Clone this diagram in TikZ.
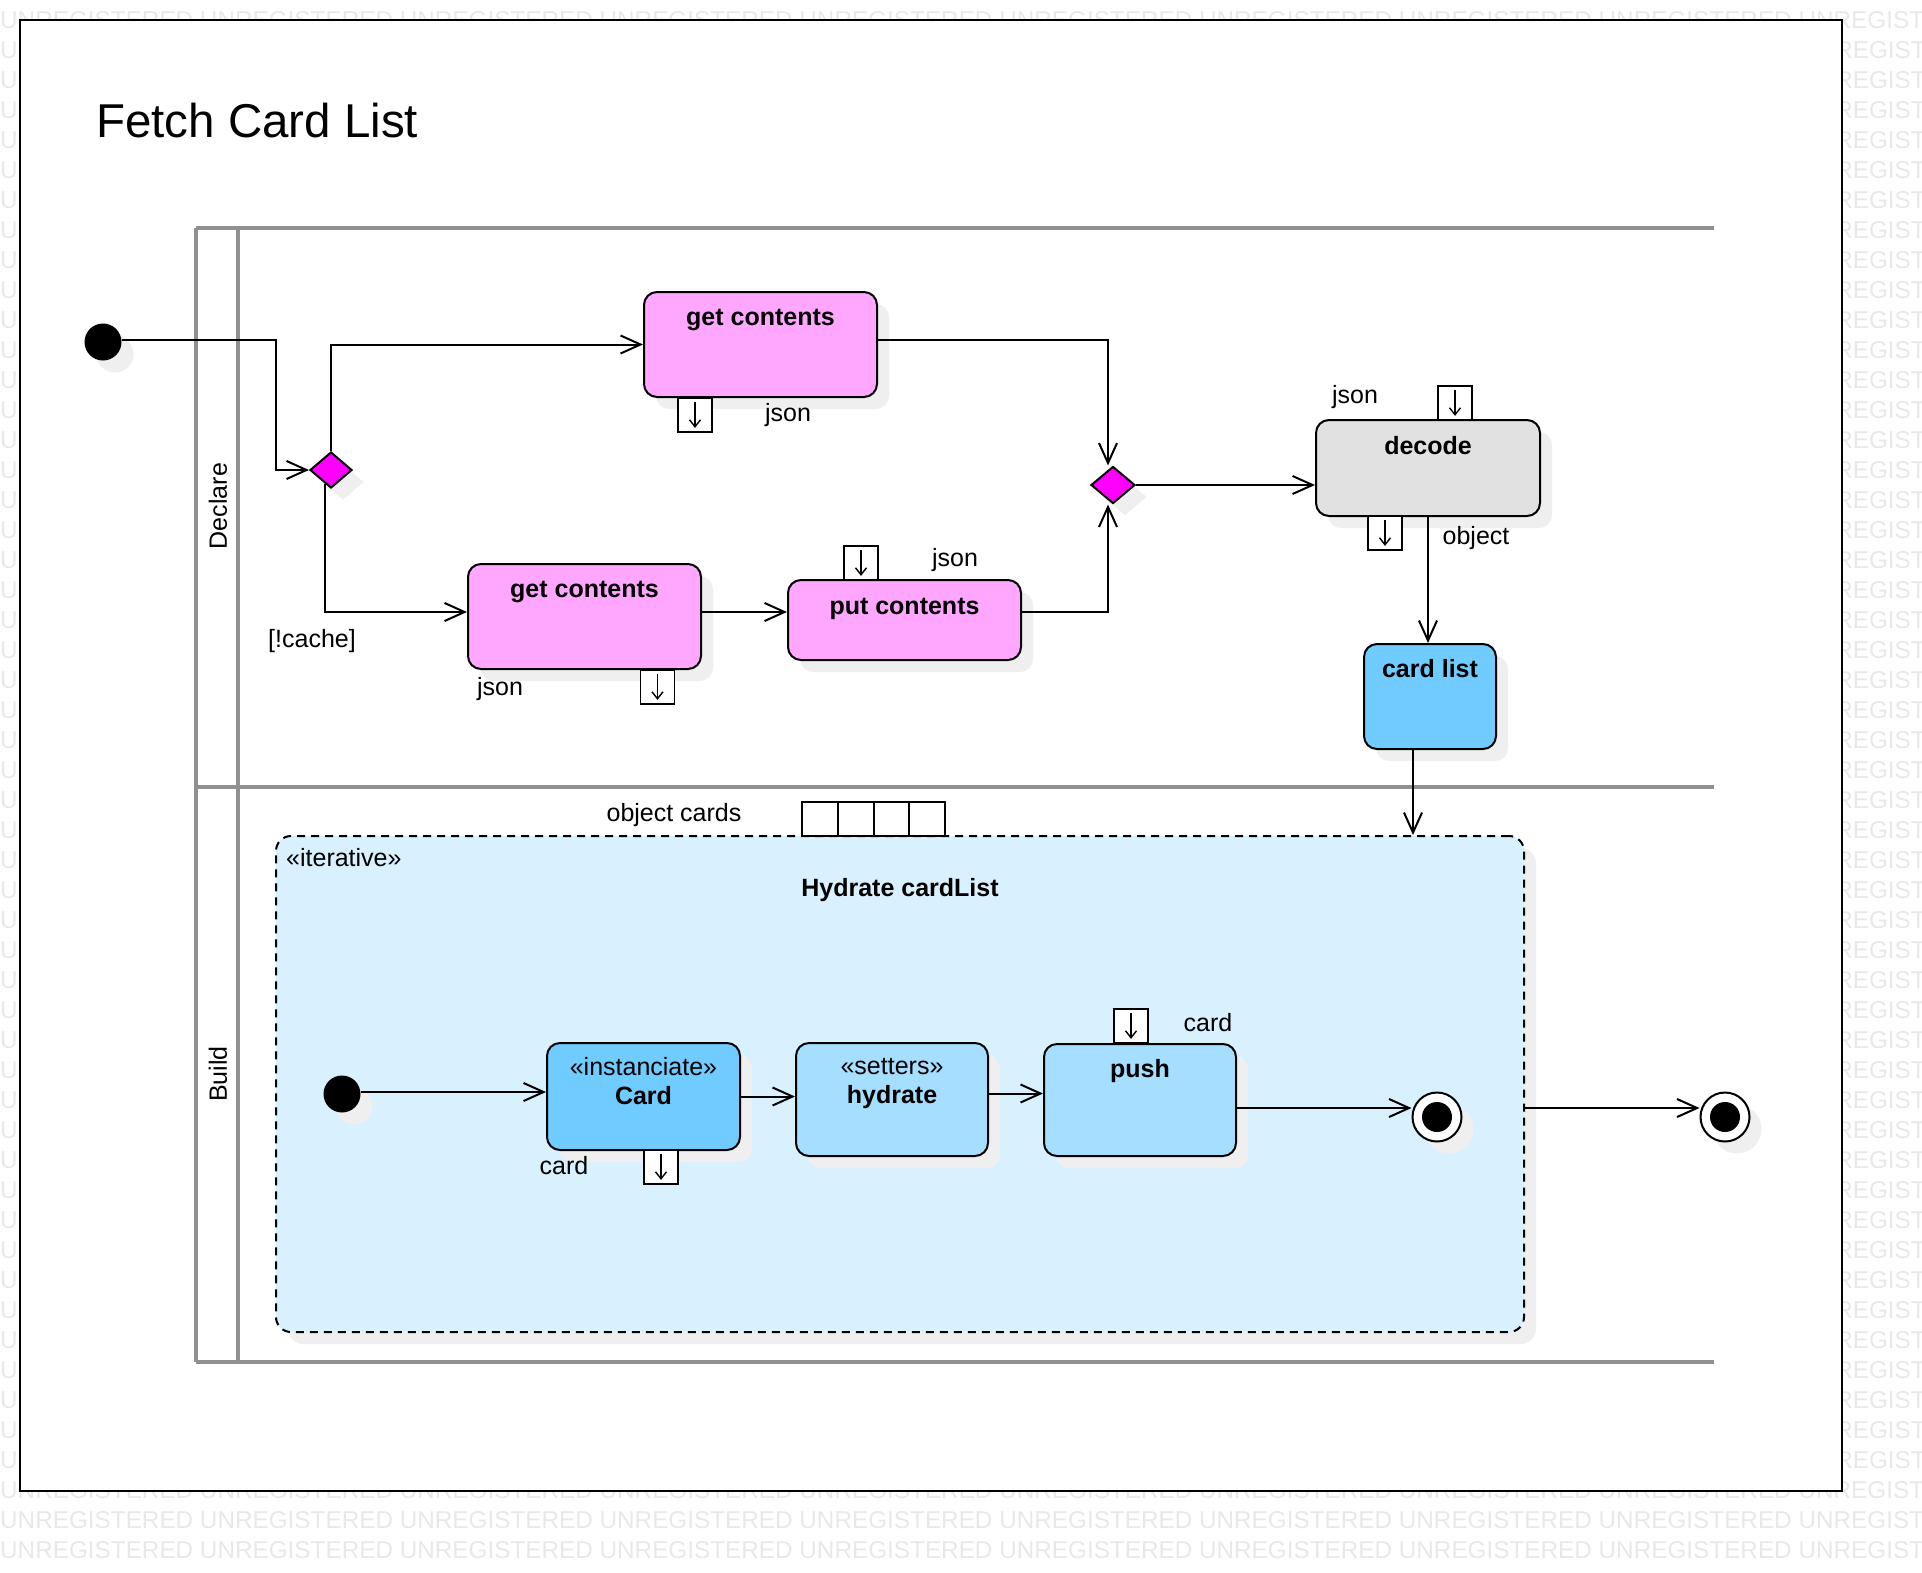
\documentclass[tikz,border=0pt]{standalone}
\usepackage{fontspec}
\setmainfont{Liberation Sans}
\usetikzlibrary{shapes.geometric,arrows.meta,shadows}
\definecolor{pinkbox}{HTML}{FFA6FF}
\definecolor{bluebox}{HTML}{70CCFF}
\definecolor{lightbox}{HTML}{A6DEFF}
\definecolor{regionfill}{HTML}{D9F0FE}
\definecolor{graybox}{HTML}{E1E1E1}
\definecolor{lanegray}{HTML}{909090}
\definecolor{shadowgray}{HTML}{EFEFEF}
\definecolor{wmgray}{HTML}{E8E8E8}
\definecolor{diafill}{HTML}{FF00FF}
\newcommand\lblfont{\fontsize{25}{30}\selectfont}
\newcommand\wmfont{\fontsize{24.3}{29}\selectfont}
\tikzset{
  sh/.style={drop shadow={shadow xshift=12pt, shadow yshift=-12pt, fill=shadowgray, opacity=1}},
  act/.style={draw, line width=2pt, rounded corners=13pt, sh, inner sep=0pt},
  pinbox/.style={draw, fill=white, line width=1.8pt, minimum size=34pt, inner sep=0pt},
  pinarrow/.style={line width=1.4pt, -{Straight Barb[length=7pt,width=11pt]}},
  flow/.style={line width=2pt, -{Straight Barb[length=20pt,width=18pt]}},
  lane/.style={draw=lanegray, line width=4pt},
  lbl/.style={font=\lblfont, inner sep=0pt},
  bl/.style={font=\lblfont\bfseries, inner sep=0pt},
  dia/.style={diamond, draw, fill=diafill, line width=2pt, inner sep=0pt, sh},
  wm/.style={anchor=base west, text=wmgray, font=\wmfont, inner sep=0pt},
}
\begin{document}
\begin{tikzpicture}[x=1pt,y=-1pt]
\useasboundingbox (0,0) rectangle (1922,1572);
% watermark (only where it shows round the frame)
\begin{scope}
\clip (0,0) rectangle (1922,1572);
\foreach \k in {0,49,50,51}{
  \node[wm] (wmrow\k) at ({0},{28+30*\k})
  {UNREGISTERED UNREGISTERED UNREGISTERED UNREGISTERED UNREGISTERED UNREGISTERED UNREGISTERED UNREGISTERED UNREGISTERED UNREGISTERED};
}
\foreach \k in {1,...,48}{
  \node[wm] (wml\k) at ({0},{28+30*\k}) {U};
  \node[wm] (wmr\k) at ({1800},{28+30*\k}) {UNREGISTERED};
}
\end{scope}
% frame
\draw[line width=2.5pt, fill=white] (20,20) rectangle (1842,1491);
\node[anchor=west, font=\fontsize{47.5}{56}\selectfont, inner sep=0pt] (title) at (96,121) {Fetch Card List};
% lanes
\draw[lane] (196,228) -- (196,1362);
\draw[lane] (238,228) -- (238,1362);
\draw[lane] (196,228) -- (1714,228);
\draw[lane] (196,787) -- (1714,787);
\draw[lane] (196,1362) -- (1714,1362);
\node[lbl, rotate=90] (declare) at (218,506) {Declare};
\node[lbl, rotate=90] (build) at (218,1074) {Build};

% top lane nodes
\node[circle, fill=black, minimum size=37pt, inner sep=0pt, sh] (init1) at (103,342) {};
\node[dia, minimum width=42pt, minimum height=36pt] (dec1) at (331,470) {};
\node[act, fill=pinkbox, minimum width=233pt, minimum height=105pt] (gc1) at (760.5,344.5) {};
\node[bl] (gc1t) at (760.5,320) {get contents};
\node[act, fill=pinkbox, minimum width=233pt, minimum height=105pt] (gc2) at (584.5,616.5) {};
\node[bl] (gc2t) at (584.5,592) {get contents};
\node[act, fill=pinkbox, minimum width=233pt, minimum height=80pt] (pc) at (904.5,620) {};
\node[bl] (pct) at (904.5,609) {put contents};
\node[dia, minimum width=44pt, minimum height=37pt] (dec2) at (1113,485) {};
\node[act, fill=graybox, minimum width=224pt, minimum height=96pt] (decode) at (1428,468) {};
\node[bl] (decodet) at (1428,446) {decode};
\node[act, fill=bluebox, minimum width=132pt, minimum height=105pt] (cardlist) at (1430,696.5) {};
\node[bl] (cardlistt) at (1430,669) {card list};

% pins top lane
\node[pinbox] (p1) at (695,415) {};
\draw[pinarrow] ([yshift=-5pt]p1.north) -- ([yshift=5pt]p1.south);
\node[lbl] (p1l) at (788,415) {json};
\node[pinbox] (p2) at (657.5,687) {};
\draw[pinarrow] ([yshift=-5pt]p2.north) -- ([yshift=5pt]p2.south);
\node[lbl] (p2l) at (500,689) {json};
\node[pinbox] (p3) at (861,563) {};
\draw[pinarrow] ([yshift=-5pt]p3.north) -- ([yshift=5pt]p3.south);
\node[lbl] (p3l) at (955,560) {json};
\node[pinbox] (p4) at (1455,403) {};
\draw[pinarrow] ([yshift=-5pt]p4.north) -- ([yshift=5pt]p4.south);
\node[lbl] (p4l) at (1355,397) {json};
\node[pinbox] (p5) at (1385,533) {};
\draw[pinarrow] ([yshift=-5pt]p5.north) -- ([yshift=5pt]p5.south);
\node[lbl] (p5l) at (1476,538) {object};
\node[lbl] (cache) at (312,641) {[!cache]};

% top lane edges
\path (init1.east) ++(0,-2) coordinate (i1e);
\coordinate (j1) at (276,340);
\draw[flow] (i1e) -- (j1) |- (dec1.west);
\draw[flow] (dec1.north) |- (gc1.west);
\path (gc2.west) ++(0,-4.5) coordinate (g2w);
\path (dec1.south) ++(-6,-5) coordinate (d1s);
\draw[flow] (d1s) |- (g2w);
\draw[flow] (g2w -| gc2.east) -- (g2w -| pc.west);
\path (gc1.east) ++(0,-4.5) coordinate (g1e);
\path (dec2.north) ++(-5,0) coordinate (d2n);
\path (dec2.south) ++(-5,0) coordinate (d2s);
\draw[flow] (g1e) -| (d2n);
\draw[flow] (g2w -| pc.east) -| (d2s);
\draw[flow] (dec2.east) -- (dec2.east -| decode.west);
\draw[flow] (decode.south) -- (decode.south |- cardlist.north);

% region
\node[draw, dash pattern=on 8pt off 6pt, line width=2pt, fill=regionfill, rounded corners=15pt,
      minimum width=1248pt, minimum height=496pt, inner sep=0pt, sh] (region) at (900,1084) {};
\node[lbl, anchor=west] (iter) at (286,858) {«iterative»};
\node[bl] (regt) at (900,890) {Hydrate cardList};
\node[lbl] (objcards) at (674,815) {object cards};
\foreach \i in {0,1,2,3}{
  \node[draw, fill=white, line width=2pt, minimum width=35.75pt, minimum height=34pt, inner sep=0pt]
    (arr\i) at ({819.9+35.75*\i},819) {};
}
\path (cardlist.south) ++(-17,0) coordinate (c9);
\draw[flow] (c9) -- (c9 |- region.north);

% inner nodes
\node[circle, fill=black, minimum size=37pt, inner sep=0pt, sh] (init2) at (342,1094) {};
\node[act, fill=bluebox, minimum width=193pt, minimum height=107pt] (card) at (643.5,1096.5) {};
\node[lbl] (cards) at (643.5,1067) {«instanciate»};
\node[bl] (cardt) at (643.5,1096) {Card};
\node[act, fill=lightbox, minimum width=192pt, minimum height=113pt] (hydrate) at (892,1099.5) {};
\node[lbl] (hyds) at (892,1067) {«setters»};
\node[bl] (hydt) at (892,1097) {hydrate};
\node[act, fill=lightbox, minimum width=192pt, minimum height=112pt] (push) at (1140,1100) {};
\node[bl] (pusht) at (1140,1071) {push};
\node[pinbox] (p6) at (661,1167) {};
\draw[pinarrow] ([yshift=-5pt]p6.north) -- ([yshift=5pt]p6.south);
\node[lbl] (p6l) at (564,1166) {card};
\node[pinbox] (p7) at (1131,1026) {};
\draw[pinarrow] ([yshift=-5pt]p7.north) -- ([yshift=5pt]p7.south);
\node[lbl] (p7l) at (1208,1023) {card};

\node[circle, draw, fill=white, line width=2pt, minimum size=49pt, inner sep=0pt, sh] (fin1) at (1437,1117) {};
\node[circle, fill=black, minimum size=30pt, inner sep=0pt] (fin1c) at (fin1) {};
\node[circle, draw, fill=white, line width=2pt, minimum size=49pt, inner sep=0pt, sh] (fin2) at (1725,1117) {};
\node[circle, fill=black, minimum size=30pt, inner sep=0pt] (fin2c) at (fin2) {};

\path (init2.east) ++(0,-2) coordinate (i2e);
\draw[flow] (i2e) -- (i2e -| card.west);
\draw[flow] (card.east) -- (card.east -| hydrate.west);
\path (hydrate.east) ++(0,-6) coordinate (he);
\draw[flow] (he) -- (he -| push.west);
\path (push.east) ++(0,8) coordinate (c13);
\draw[flow] (c13) -- (c13 -| fin1.west);
\path (c13 -| region.east) coordinate (c14);
\draw[flow] (c14) -- (c14 -| fin2.west);
\end{tikzpicture}
\end{document}
